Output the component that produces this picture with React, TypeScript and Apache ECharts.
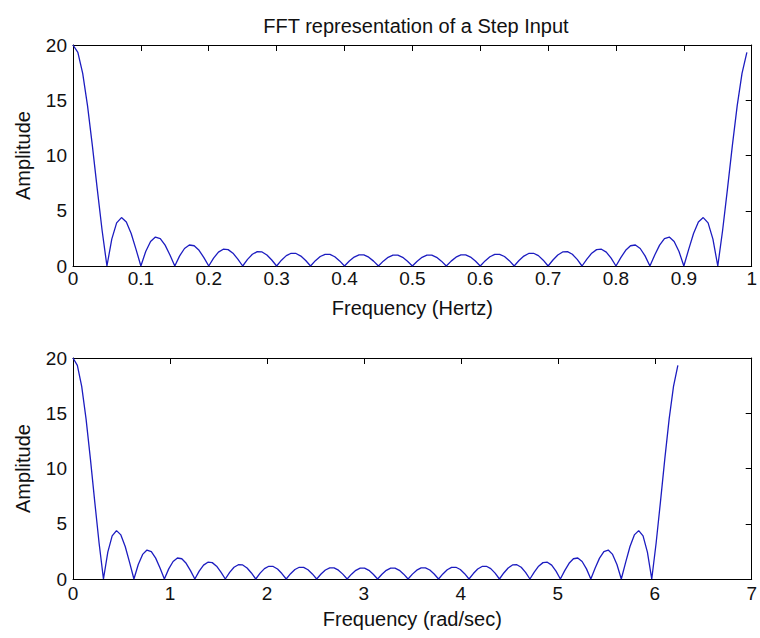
import React, { useEffect, useRef } from "react";
import * as echarts from "echarts";

// FFT magnitude of the step input (140 samples over one period)
const amplitude: number[] = [
  20, 19.337, 17.426, 14.493, 10.876, 6.983, 3.232, 0,
  2.43, 3.898, 4.381, 3.99, 2.939, 1.509, 0,
  1.314, 2.225, 2.619, 2.481, 1.89, 1.0, 0,
  0.916, 1.584, 1.901, 1.832, 1.419, 0.762, 0,
  0.716, 1.254, 1.521, 1.482, 1.159, 0.628, 0,
  0.6, 1.059, 1.295, 1.27, 1.0, 0.545, 0,
  0.528, 0.937, 1.151, 1.136, 0.899, 0.493, 0,
  0.482, 0.859, 1.06, 1.05, 0.835, 0.46, 0,
  0.453, 0.811, 1.005, 1.0, 0.798, 0.441, 0,
  0.438, 0.787, 0.979, 0.977, 0.783, 0.434, 0,
  0.434, 0.783, 0.977, 0.979, 0.787, 0.438,
  0, 0.441, 0.798, 1.0, 1.005, 0.811, 0.453,
  0, 0.46, 0.835, 1.05, 1.06, 0.859, 0.482,
  0, 0.493, 0.899, 1.136, 1.151, 0.937, 0.528,
  0, 0.545, 1.0, 1.27, 1.295, 1.059, 0.6,
  0, 0.628, 1.159, 1.482, 1.521, 1.254, 0.716,
  0, 0.762, 1.419, 1.832, 1.901, 1.584, 0.916,
  0, 1.0, 1.89, 2.481, 2.619, 2.225, 1.314,
  0, 1.509, 2.939, 3.99, 4.381, 3.898, 2.43,
  0, 3.232, 6.983, 10.876, 14.493, 17.426, 19.337,
];

const sampleCount = 140;
const hzTicks = { min: 0, max: 1, interval: 0.1 };
const radTicks = { min: 0, max: 7, interval: 1 };
const ampTicks = { min: 0, max: 20, interval: 5 };

const titleText = "FFT representation of a Step Input";
const xNameTop = "Frequency (Hertz)";
const xNameBottom = "Frequency (rad/sec)";
const yName = "Amplitude";

const FONT = "'Liberation Sans', Arial, sans-serif";
const LINE = "#1c1cc0";

export default function App() {
  const ref = useRef<HTMLDivElement>(null);

  useEffect(() => {
    if (!ref.current) return;
    const chart = echarts.init(ref.current, undefined, { renderer: "svg" });

    const hzData = amplitude.map((a, k) => [k / sampleCount, a]);
    const radData = amplitude.map((a, k) => [(2 * Math.PI * k) / sampleCount, a]);

    const axisLine = { show: true, onZero: false, lineStyle: { color: "#000", width: 1 } };
    const tickIn = { show: true, inside: true, length: 6, lineStyle: { color: "#000" } };
    const label = { color: "#111", fontSize: 19, fontFamily: FONT };

    const mainX = (gridIndex: number, t: any, name: string, gap: number, margin: number) => ({
      type: "value",
      gridIndex,
      position: "bottom",
      min: t.min,
      max: t.max,
      interval: t.interval,
      axisLine,
      axisTick: { show: false },
      axisLabel: { ...label, margin },
      splitLine: { show: false },
      name,
      nameLocation: "middle",
      nameGap: gap,
      nameTextStyle: { color: "#111", fontSize: 20, fontFamily: FONT },
    });
    const topX = (gridIndex: number, t: any) => ({
      type: "value",
      gridIndex,
      position: "top",
      min: t.min,
      max: t.max,
      interval: t.interval,
      axisLine,
      axisTick: tickIn,
      axisLabel: { show: false },
      splitLine: { show: false },
    });
    const mainY = (gridIndex: number) => ({
      type: "value",
      gridIndex,
      position: "left",
      min: ampTicks.min,
      max: ampTicks.max,
      interval: ampTicks.interval,
      axisLine,
      axisTick: { show: false },
      axisLabel: { ...label, margin: 6 },
      splitLine: { show: false },
      name: yName,
      nameLocation: "middle",
      nameGap: 40,
      nameTextStyle: { color: "#111", fontSize: 20, fontFamily: FONT },
    });
    const rightY = (gridIndex: number) => ({
      type: "value",
      gridIndex,
      position: "right",
      min: ampTicks.min,
      max: ampTicks.max,
      interval: ampTicks.interval,
      axisLine,
      axisTick: tickIn,
      axisLabel: { show: false },
      splitLine: { show: false },
    });

    chart.setOption({
      animation: false,
      backgroundColor: "#fff",
      title: {
        text: titleText,
        left: 411,
        top: 11,
        textAlign: "center",
        textStyle: { color: "#111", fontSize: 20, fontWeight: "normal", fontFamily: FONT },
      },
      grid: [
        { left: 73, top: 45, width: 683, height: 221 },
        { left: 73, top: 358, width: 683, height: 221 },
      ],
      xAxis: [
        mainX(0, hzTicks, xNameTop, 32, 3),
        topX(0, hzTicks),
        mainX(1, radTicks, xNameBottom, 30, 5),
        topX(1, radTicks),
      ],
      yAxis: [mainY(0), rightY(0), mainY(1), rightY(1)],
      series: [
        {
          type: "line",
          xAxisIndex: 0,
          yAxisIndex: 0,
          data: hzData,
          showSymbol: false,
          lineStyle: { color: LINE, width: 1.3 },
        },
        {
          type: "line",
          xAxisIndex: 2,
          yAxisIndex: 2,
          data: radData,
          showSymbol: false,
          lineStyle: { color: LINE, width: 1.3 },
        },
      ],
    });

    return () => chart.dispose();
  }, []);

  return (
    <div
      ref={ref}
      style={{ position: "fixed", left: 0, top: 0, width: 760, height: 638, background: "#fff" }}
    />
  );
}
